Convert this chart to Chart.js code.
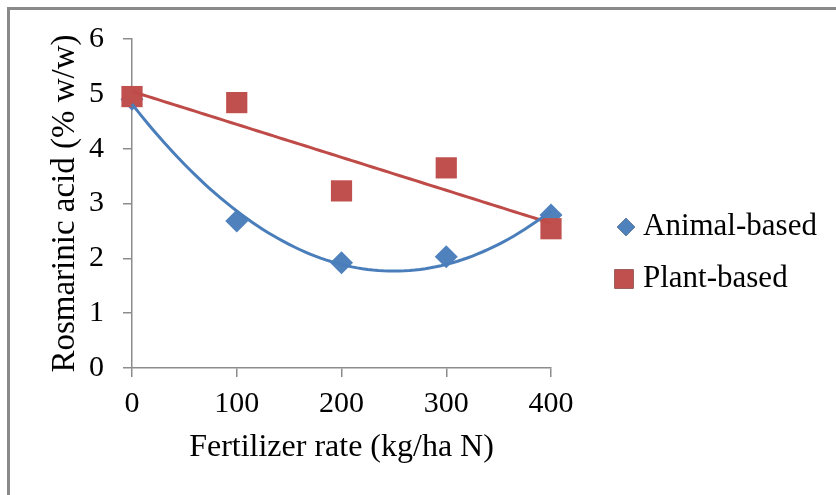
<!DOCTYPE html>
<html>
<head>
<meta charset="utf-8">
<script src="https://cdn.jsdelivr.net/npm/chart.js@4.4.0/dist/chart.umd.min.js"></script>
<style>
	html, body { margin: 0; padding: 0; background: #fff; }
	#wrap { position: relative; width: 836px; height: 495px; }
</style>
</head>
<body>
<div id="wrap"><canvas id="rosmarinicChart" width="836" height="495"></canvas></div>
<script>
// values
const rates = [0, 100, 200, 300, 400];
const animalBased = [4.9, 2.68, 1.92, 2.03, 2.79];
const plantBased = [4.95, 4.84, 3.23, 3.65, 2.54];
const xTicks = [0, 100, 200, 300, 400];
const yTicks = [0, 1, 2, 3, 4, 5, 6];

const seriesNames = ['Animal-based', 'Plant-based'];
const blue = '#4F81BD';
const red = '#C0504D';
const axisGray = '#8c8c8c';
const serif = '"Liberation Serif", "Times New Roman", serif';

// least squares fits, same as the Excel trendlines
function linearFit(xs, ys) {
	const n = xs.length;
	const mx = xs.reduce((a, b) => a + b, 0) / n;
	const my = ys.reduce((a, b) => a + b, 0) / n;
	let sxy = 0, sxx = 0;
	for (let i = 0; i < n; i++) {
		sxy += (xs[i] - mx) * (ys[i] - my);
		sxx += (xs[i] - mx) * (xs[i] - mx);
	}
	const slope = sxy / sxx;
	return x => my + slope * (x - mx);
}

function quadFit(xs, ys) {
	// normal equations for y = c0 + c1 x + c2 x^2
	const S = k => xs.reduce((a, x) => a + Math.pow(x, k), 0);
	const T = k => xs.reduce((a, x, i) => a + Math.pow(x, k) * ys[i], 0);
	const m = [
		[S(0), S(1), S(2), T(0)],
		[S(1), S(2), S(3), T(1)],
		[S(2), S(3), S(4), T(2)]
	];
	for (let c = 0; c < 3; c++) {
		for (let r = c + 1; r < 3; r++) {
			const f = m[r][c] / m[c][c];
			for (let k = c; k < 4; k++) m[r][k] -= f * m[c][k];
		}
	}
	const coef = [0, 0, 0];
	for (let r = 2; r >= 0; r--) {
		let s = m[r][3];
		for (let k = r + 1; k < 3; k++) s -= m[r][k] * coef[k];
		coef[r] = s / m[r][r];
	}
	return x => coef[0] + coef[1] * x + coef[2] * x * x;
}

function sampleCurve(fn) {
	const pts = [];
	const lo = rates[0], hi = rates[rates.length - 1];
	for (let x = lo; x <= hi; x += 5) pts.push({ x: x, y: fn(x) });
	return pts;
}

const animalTrend = sampleCurve(quadFit(rates, animalBased));
const plantTrend = sampleCurve(linearFit(rates, plantBased));

const framePlugin = {
	id: 'frame',
	beforeDraw(chart) {
		const ctx = chart.ctx;
		ctx.save();
		ctx.fillStyle = '#fff';
		ctx.fillRect(0, 0, chart.width, chart.height);
		ctx.fillStyle = '#8a8a8a';
		ctx.fillRect(7, 7, chart.width, 3);
		ctx.fillRect(7, 7, 3, chart.height);
		ctx.restore();
	}
};

const legendPlugin = {
	id: 'sideLegend',
	afterDraw(chart) {
		const ctx = chart.ctx;
		const items = [
			{ text: seriesNames[0], style: 'rectRot', color: blue, radius: 9, cx: 626, cy: 227 },
			{ text: seriesNames[1], style: 'rect', color: red, radius: 13.5, cx: 624, cy: 279 }
		];
		ctx.save();
		ctx.font = '31px ' + serif;
		ctx.textBaseline = 'middle';
		ctx.fillStyle = '#000';
		items.forEach(it => {
			Chart.helpers.drawPoint(ctx, {
				pointStyle: it.style,
				radius: it.radius,
				borderWidth: 0,
				rotation: 0
			}, it.cx, it.cy);
			ctx.fillStyle = it.color;
			ctx.fill();
			ctx.fillStyle = '#000';
			ctx.fillText(it.text, 643, it.cy);
		});
		ctx.restore();
	}
};

const ctx = document.getElementById('rosmarinicChart');

new Chart(ctx, {
	type: 'scatter',
	data: {
		datasets: [
			{
				label: 'Animal-based trend',
				data: animalTrend,
				showLine: true,
				borderColor: '#4A7EBB',
				borderWidth: 3,
				pointRadius: 0,
				tension: 0,
				order: 0
			},
			{
				label: 'Plant-based trend',
				data: plantTrend,
				showLine: true,
				borderColor: '#BE4B48',
				borderWidth: 3,
				pointRadius: 0,
				tension: 0,
				order: 0
			},
			{
				label: seriesNames[1],
				data: rates.map((x, i) => ({ x: x, y: plantBased[i] })),
				pointStyle: 'rect',
				pointRadius: 15,
				pointBackgroundColor: red,
				pointBorderWidth: 0,
				order: 1
			},
			{
				label: seriesNames[0],
				data: rates.map((x, i) => ({ x: x, y: animalBased[i] })),
				pointStyle: 'rectRot',
				pointRadius: 11.5,
				pointBackgroundColor: blue,
				pointBorderWidth: 0,
				order: 2
			}
		]
	},
	options: {
		responsive: false,
		animation: false,
		devicePixelRatio: 1,
		clip: false,
		layout: {
			padding: { left: 46, top: 39, right: 285, bottom: 28 }
		},
		plugins: {
			legend: { display: false },
			tooltip: { enabled: false }
		},
		scales: {
			x: {
				type: 'linear',
				min: xTicks[0],
				max: xTicks[xTicks.length - 1],
				afterBuildTicks: s => { s.ticks = xTicks.map(v => ({ value: v })); },
				afterFit: s => { s.height = 99; },
				grid: {
					drawOnChartArea: false,
					drawTicks: true,
					tickLength: 9,
					color: axisGray,
					lineWidth: 1.5
				},
				border: { display: true, color: axisGray, width: 1.5 },
				ticks: {
					color: '#000',
					padding: 9,
					font: { family: serif, size: 30 }
				},
				title: {
					display: true,
					text: 'Fertilizer rate (kg/ha N)',
					color: '#000',
					padding: 0,
					font: { family: serif, size: 32 }
				}
			},
			y: {
				type: 'linear',
				min: yTicks[0],
				max: yTicks[yTicks.length - 1],
				afterBuildTicks: s => { s.ticks = yTicks.map(v => ({ value: v })); },
				afterFit: s => { s.width = 86; },
				grid: {
					drawOnChartArea: false,
					drawTicks: true,
					tickLength: 9,
					color: axisGray,
					lineWidth: 1.5
				},
				border: { display: true, color: axisGray, width: 1.5 },
				ticks: {
					color: '#000',
					padding: 19,
					font: { family: serif, size: 30 }
				},
				title: {
					display: true,
					text: 'Rosmarinic acid (% w/w)',
					color: '#000',
					padding: 0,
					font: { family: serif, size: 33 }
				}
			}
		}
	},
	plugins: [framePlugin, legendPlugin]
});
</script>
</body>
</html>
